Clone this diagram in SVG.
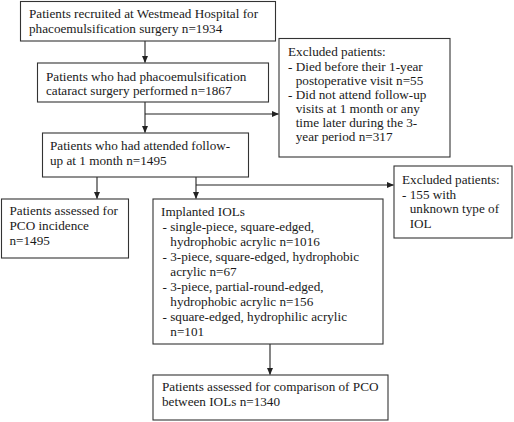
<svg xmlns="http://www.w3.org/2000/svg" width="514" height="422" viewBox="0 0 514 422">
<style>
.box{fill:#fff;stroke:#333;stroke-width:1.1}
.t{font-family:"Liberation Serif","Times New Roman",serif;font-size:13.2px;fill:#1a1a1a}
.ln{fill:none;stroke:#222;stroke-width:1.1}
</style>
<defs>
<marker id="ah" markerWidth="7" markerHeight="6" refX="6.5" refY="3" orient="auto" markerUnits="userSpaceOnUse">
<path d="M0,0 L7,3 L0,6 Z" fill="#222"/>
</marker>
</defs>
<rect width="514" height="422" fill="#fff"/>
<g id="connectors">
<line class="ln" x1="145" y1="41" x2="145" y2="62.5" marker-end="url(#ah)"/>
<line class="ln" x1="145" y1="102" x2="145" y2="132.5" marker-end="url(#ah)"/>
<line class="ln" x1="145" y1="114" x2="278.5" y2="114" marker-end="url(#ah)"/>
<line class="ln" x1="97" y1="177" x2="97" y2="198.5" marker-end="url(#ah)"/>
<line class="ln" x1="196" y1="177" x2="196" y2="198.5" marker-end="url(#ah)"/>
<line class="ln" x1="196" y1="185" x2="393.5" y2="185" marker-end="url(#ah)"/>
<line class="ln" x1="270" y1="344" x2="270" y2="374.5" marker-end="url(#ah)"/>
</g>
<g id="n1">
<rect class="box" x="20.5" y="1.5" width="255" height="39.5"/>
<text class="t" x="29" y="18">Patients recruited at Westmead Hospital for</text>
<text class="t" x="29" y="32.5">phacoemulsification surgery n=1934</text>
</g>
<g id="n2">
<rect class="box" x="37.5" y="63" width="231" height="39"/>
<text class="t" x="46" y="80.5">Patients who had phacoemulsification</text>
<text class="t" x="46" y="95">cataract surgery performed n=1867</text>
</g>
<g id="n3">
<rect class="box" x="279" y="38.5" width="171" height="118.5"/>
<text class="t" x="288" y="56">Excluded patients:</text>
<text class="t" x="288" y="70.5">- Died before their 1-year</text>
<text class="t" x="295.7" y="84.5">postoperative visit n=55</text>
<text class="t" x="288" y="99">- Did not attend follow-up</text>
<text class="t" x="295.7" y="113">visits at 1 month or any</text>
<text class="t" x="295.7" y="127">time later during the 3-</text>
<text class="t" x="295.7" y="141">year period n=317</text>
</g>
<g id="n4">
<rect class="box" x="42.5" y="133" width="206" height="44"/>
<text class="t" x="50" y="149.5">Patients who had attended follow-</text>
<text class="t" x="50" y="164.5">up at 1 month n=1495</text>
</g>
<g id="n5">
<rect class="box" x="1.5" y="199" width="127" height="59"/>
<text class="t" x="9.5" y="215">Patients assessed for</text>
<text class="t" x="9.5" y="230">PCO incidence</text>
<text class="t" x="9.5" y="245">n=1495</text>
</g>
<g id="n6">
<rect class="box" x="153" y="199" width="230" height="145"/>
<text class="t" x="161" y="216">Implanted IOLs</text>
<text class="t" x="162.5" y="231">- single-piece, square-edged,</text>
<text class="t" x="170.3" y="246">hydrophobic acrylic n=1016</text>
<text class="t" x="162.5" y="261">- 3-piece, square-edged, hydrophobic</text>
<text class="t" x="170.3" y="276">acrylic n=67</text>
<text class="t" x="162.5" y="291">- 3-piece, partial-round-edged,</text>
<text class="t" x="170.3" y="306">hydrophobic acrylic n=156</text>
<text class="t" x="162.5" y="321">- square-edged, hydrophilic acrylic</text>
<text class="t" x="170.3" y="336">n=101</text>
</g>
<g id="n7">
<rect class="box" x="394" y="166" width="118" height="72"/>
<text class="t" x="402" y="184">Excluded patients:</text>
<text class="t" x="402" y="198.5">- 155 with</text>
<text class="t" x="409.7" y="213">unknown type of</text>
<text class="t" x="409.7" y="227.5">IOL</text>
</g>
<g id="n8">
<rect class="box" x="153" y="375" width="235" height="45"/>
<text class="t" x="162" y="391">Patients assessed for comparison of PCO</text>
<text class="t" x="162" y="405.5">between IOLs n=1340</text>
</g>
</svg>
